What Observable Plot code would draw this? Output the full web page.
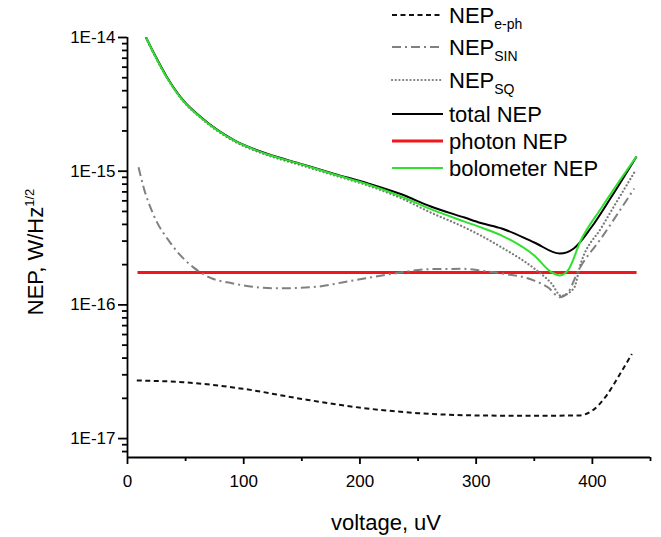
<!DOCTYPE html>
<html><head><meta charset="utf-8">
<script src="https://cdn.jsdelivr.net/npm/d3@7"></script>
<script src="https://cdn.jsdelivr.net/npm/@observablehq/plot@0.6"></script>
<style>
body{margin:0;background:#fff}
#chart{position:relative;width:661px;height:537px}
</style>
</head><body><div id="chart"></div>
<script>
// ---- data (voltage in uV, NEP in W/Hz^1/2) ----
const ephV   = [8, 48, 99, 150, 201, 250, 301, 346, 388, 400, 412, 424, 434];
const ephNEP = [2.72e-17, 2.64e-17, 2.36e-17, 1.98e-17, 1.70e-17, 1.55e-17, 1.49e-17, 1.48e-17, 1.49e-17, 1.62e-17, 2.09e-17, 3.07e-17, 4.3e-17];

const sinV   = [9.5, 14, 22, 37, 57, 71, 90, 130, 160, 190, 230, 260, 290, 305, 322, 350, 362, 372, 379, 388, 408, 436];
const sinNEP = [1.07e-15, 7.5e-16, 4.8e-16, 2.9e-16, 1.9e-16, 1.6e-16, 1.45e-16, 1.33e-16, 1.36e-16, 1.5e-16, 1.72e-16, 1.85e-16, 1.86e-16, 1.8e-16, 1.72e-16, 1.52e-16, 1.35e-16, 1.14e-16, 1.24e-16, 1.81e-16, 3.19e-16, 7.43e-16];

const sqV   = [16, 23, 34, 48, 63, 92, 120, 149, 178, 207, 235, 261, 290, 304, 322, 350, 365, 373, 384, 390, 408, 436];
const sqNEP = [9.9e-15, 7.45e-15, 4.98e-15, 3.33e-15, 2.5e-15, 1.67e-15, 1.32e-15, 1.11e-15, 9.3e-16, 7.8e-16, 6.3e-16, 4.9e-16, 3.8e-16, 3.3e-16, 2.69e-16, 1.87e-16, 1.44e-16, 1.17e-16, 1.33e-16, 2.04e-16, 3.81e-16, 9.77e-16];

const totV   = [16, 23, 34, 48, 63, 92, 120, 149, 178, 207, 235, 261, 290, 304, 322, 350, 372, 384, 399, 416, 438];
const totNEP = [1.0e-14, 7.55e-15, 5.05e-15, 3.38e-15, 2.54e-15, 1.70e-15, 1.35e-15, 1.135e-15, 9.55e-16, 8.1e-16, 6.75e-16, 5.45e-16, 4.5e-16, 4.1e-16, 3.73e-16, 2.93e-16, 2.42e-16, 2.64e-16, 3.79e-16, 6.36e-16, 1.29e-15];

const bolV   = [16, 23, 34, 48, 63, 92, 120, 149, 178, 207, 235, 261, 290, 304, 322, 350, 365, 372, 379, 390, 408, 438];
const bolNEP = [1.0e-14, 7.5e-15, 5.0e-15, 3.35e-15, 2.52e-15, 1.69e-15, 1.34e-15, 1.13e-15, 9.45e-16, 7.95e-16, 6.5e-16, 5.2e-16, 4.2e-16, 3.8e-16, 3.3e-16, 2.34e-16, 1.75e-16, 1.66e-16, 1.81e-16, 3.03e-16, 5.35e-16, 1.29e-15];

const phV   = [8.6, 438];
const phNEP = [1.75e-16, 1.75e-16];

const xMajorTicks = [0, 100, 200, 300, 400];
const xMinorTicks = [50, 150, 250, 350, 450];
const yMajorTicks = [1e-17, 1e-16, 1e-15, 1e-14];
const yMinorTicks = [8e-18, 9e-18,
  2e-17,3e-17,4e-17,5e-17,6e-17,7e-17,8e-17,9e-17,
  2e-16,3e-16,4e-16,5e-16,6e-16,7e-16,8e-16,9e-16,
  2e-15,3e-15,4e-15,5e-15,6e-15,7e-15,8e-15,9e-15];

const legendLabels = [
  {main: "NEP", sub: "e-ph"},
  {main: "NEP", sub: "SIN"},
  {main: "NEP", sub: "SQ"},
  {main: "total NEP", sub: ""},
  {main: "photon NEP", sub: ""},
  {main: "bolometer NEP", sub: ""}
];
const xTitle = "voltage, uV";
const yTitle = "NEP, W/Hz";
const yTitleSup = "1/2";

// ---- styles ----
const styles = {
  eph: {stroke: "#111", strokeWidth: 2, dash: "5,3.5", cap: "butt"},
  sin: {stroke: "#808080", strokeWidth: 2, dash: "9,4,2,4", cap: "butt"},
  sq:  {stroke: "#7a7a7a", strokeWidth: 2.2, dash: "0.1,3.6", cap: "round"},
  tot: {stroke: "#000", strokeWidth: 2, dash: null, cap: "butt"},
  ph:  {stroke: "#f0161c", strokeWidth: 3, dash: null, cap: "butt"},
  bol: {stroke: "#2fe02f", strokeWidth: 2, dash: null, cap: "butt"}
};

const toRows = (vs, ns) => vs.map((v, i) => ({v, n: ns[i]}));
const lineMark = (rows, s) => Plot.line(rows, {
  x: "v", y: "n", curve: "monotone-x",
  stroke: s.stroke, strokeWidth: s.strokeWidth,
  strokeDasharray: s.dash, strokeLinecap: s.cap
});

const FONT = "'Liberation Sans', Arial, sans-serif";
const yMin = 7.22e-18, yMax = 1e-14;
const W = 661, H = 537, MT = 37, MB = 80, ML = 127, MR = 11;
const frameH = H - MT - MB;
const AX = {stroke: "#000", strokeWidth: 1.8};

const plot = Plot.plot({
  width: W, height: H,
  marginTop: MT, marginBottom: MB, marginLeft: ML, marginRight: MR,
  style: {fontFamily: FONT, fontSize: "17px", color: "#000", background: "#fff"},
  x: {domain: [0, 450]},
  y: {type: "log", domain: [yMin, yMax]},
  marks: [
    lineMark(toRows(phV, phNEP), styles.ph),
    lineMark(toRows(ephV, ephNEP), styles.eph),
    lineMark(toRows(sinV, sinNEP), styles.sin),
    lineMark(toRows(sqV, sqNEP), styles.sq),
    lineMark(toRows(totV, totNEP), styles.tot),
    lineMark(toRows(bolV, bolNEP), styles.bol),
    // tick labels
    Plot.axisX({ticks: xMajorTicks, tickSize: 0, tickPadding: 17, label: null, fontSize: 17}),
    Plot.axisY({ticks: yMajorTicks, tickSize: 0, tickPadding: 12, label: null, fontSize: 17,
      tickFormat: d => "1E" + Math.round(Math.log10(d))}),
    // outward tick marks
    Plot.ruleX(xMajorTicks, {insetTop: frameH, insetBottom: -7, ...AX}),
    Plot.ruleX(xMinorTicks, {insetTop: frameH, insetBottom: -4, ...AX}),
    Plot.ruleY(yMajorTicks, {x1: 0, x2: 0, insetLeft: -9, ...AX}),
    Plot.ruleY(yMinorTicks, {x1: 0, x2: 0, insetLeft: -5, ...AX}),
    // axis lines
    Plot.ruleX([0], {stroke: "#000", strokeWidth: 1.8}),
    Plot.ruleY([yMin], {stroke: "#000", strokeWidth: 1.8})
  ]
});

document.getElementById("chart").appendChild(plot);
const svg = d3.select(plot);

// y-axis title with superscript
const yt = svg.append("text")
  .attr("transform", "translate(43,252) rotate(-90)")
  .attr("text-anchor", "middle")
  .attr("font-family", FONT).attr("font-size", 22).attr("fill", "#000");
yt.append("tspan").text(yTitle);
yt.append("tspan").attr("dy", -9).attr("font-size", 13).text(yTitleSup);

// x-axis title
svg.append("text")
  .attr("x", 386).attr("y", 530)
  .attr("text-anchor", "middle")
  .attr("font-family", FONT).attr("font-size", 22).attr("fill", "#000")
  .text(xTitle);

// legend
const legendKeys = ["eph", "sin", "sq", "tot", "ph", "bol"];
const legendY = [15, 47, 80, 114, 141, 168];
const lg = svg.append("g").attr("text-anchor", "start");
legendKeys.forEach((k, i) => {
  const s = styles[k], y = legendY[i];
  lg.append("line").attr("x1", 392).attr("x2", 443).attr("y1", y).attr("y2", y)
    .attr("stroke", s.stroke).attr("stroke-width", s.strokeWidth)
    .attr("stroke-dasharray", s.dash).attr("stroke-linecap", s.cap);
  const t = lg.append("text").attr("x", 449).attr("y", y)
    .attr("text-anchor", "start")
    .attr("dominant-baseline", "central")
    .attr("font-family", FONT).attr("font-size", 22).attr("fill", "#000");
  t.append("tspan").text(legendLabels[i].main);
  if (legendLabels[i].sub) t.append("tspan").attr("dy", 9).attr("font-size", 14).text(legendLabels[i].sub);
});
</script>
</body></html>
